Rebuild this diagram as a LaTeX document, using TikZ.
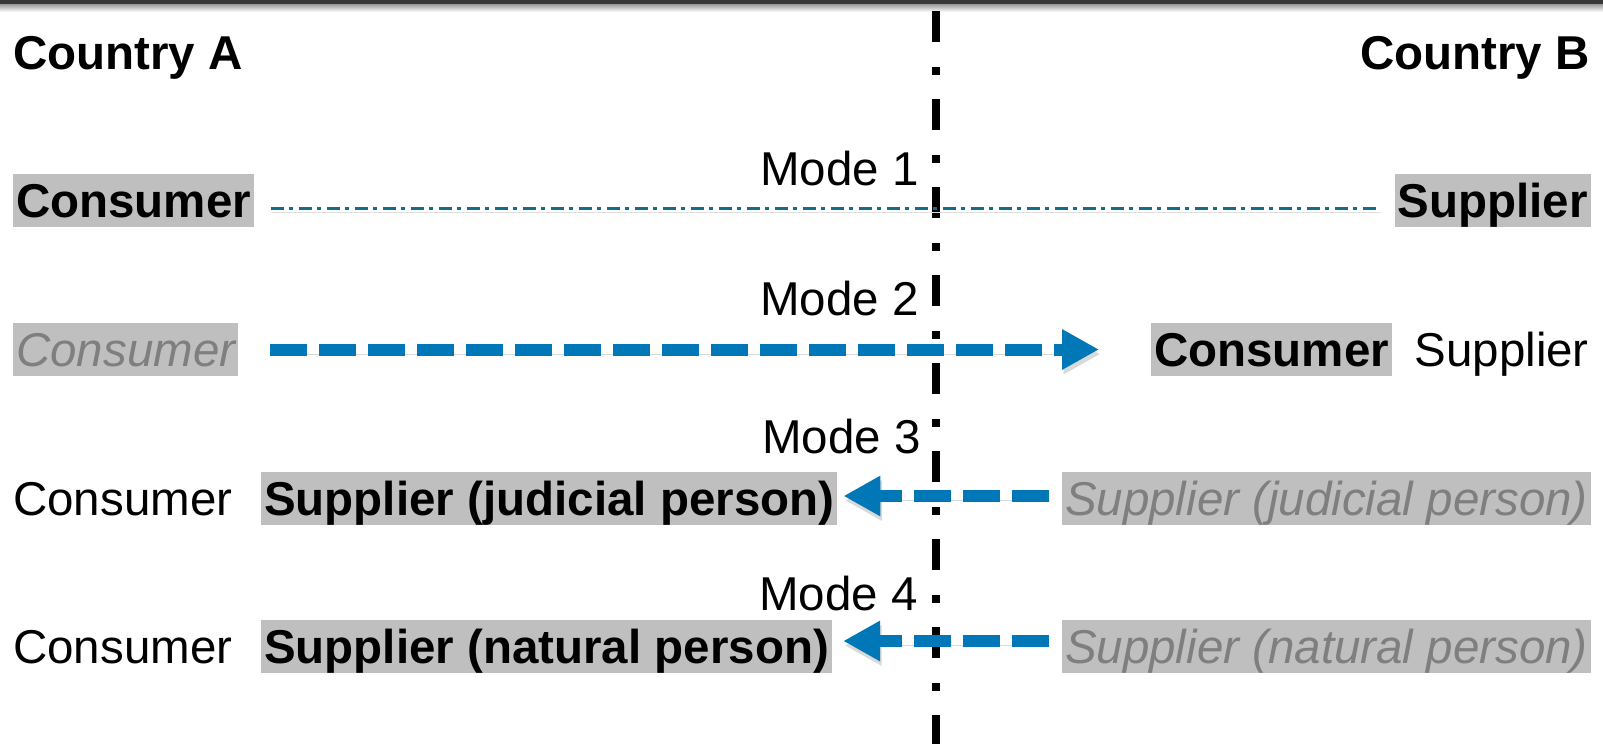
\documentclass[tikz,border=0pt]{standalone}
\usepackage{fontspec}
\setmainfont{Liberation Sans}
\usetikzlibrary{arrows.meta,calc}
\definecolor{boxgray}{HTML}{BFBFBF}
\definecolor{txtgray}{HTML}{7F7F7F}
\definecolor{arrowblue}{HTML}{0077B6}
\definecolor{lineteal}{HTML}{166A8C}
\begin{document}
\begin{tikzpicture}[x=1pt,y=-1pt,
  every node/.style={inner sep=0pt},
  plaintxt/.style={font=\fontsize{47.5}{56}\selectfont},
  boldtxt/.style={font=\fontsize{47.5}{56}\selectfont\bfseries},
  fadedtxt/.style={font=\fontsize{47.5}{56}\selectfont\itshape, text=txtgray},
  hl/.style={fill=boxgray, inner xsep=3pt, inner ysep=3pt, text height=40pt, text depth=7pt},
  flow/.style={line width=12pt, draw=arrowblue, dash pattern=on 37pt off 12pt,
    -{Triangle[length=37pt,width=38pt]},
    preaction={draw=black!15, transform canvas={xshift=1.5pt,yshift=-4.5pt}}},
  modeline/.style={line width=3pt, draw=lineteal, dash pattern=on 13pt off 5pt on 4pt off 6pt,
    preaction={draw=black!12, transform canvas={xshift=1pt,yshift=-4pt}}},
  divider/.style={line width=8pt, draw=black, dash pattern=on 31pt off 25pt on 8pt off 24pt}
]
\useasboundingbox (0,0) rectangle (1603,744);
% top border
\fill[black!78] (0,0) rectangle (1603,4);
\shade[top color=black!40, bottom color=white] (0,4) rectangle (1603,12);

% divider
\coordinate (divtop) at (936,11);
\coordinate (divbot) at (936,744);
\draw[divider] (divtop) -- (divbot);

% headers
\node[boldtxt, anchor=base west] (ca) at (13,69) {Country A};
\node[boldtxt, anchor=base east] (cb) at (1590,69) {Country B};

% mode labels
\node[plaintxt, anchor=base east] (m1) at (919,185) {Mode 1};
\node[plaintxt, anchor=base east] (m2) at (919,315) {Mode 2};
\node[plaintxt, anchor=base east] (m3) at (921,453) {Mode 3};
\node[plaintxt, anchor=base east] (m4) at (918,610) {Mode 4};

% row 1
\node[boldtxt, hl, anchor=base west] (c1) at (13,217) {Consumer};
\node[boldtxt, hl, anchor=base east] (s1) at (1591,217) {Supplier};
\draw[modeline] ($(c1.east)+(17,7.5)$) -- ($(s1.west)+(-15,7.5)$);

% row 2
\node[fadedtxt, hl, anchor=base west] (c2) at (13,366) {Consumer};
\node[boldtxt, hl, anchor=base west] (c2b) at (1151,366) {Consumer};
\node[plaintxt, anchor=base east] (s2) at (1589,366) {Supplier};
\draw[flow] ($(c2.east)+(31,0)$) -- ($(c2b.west)+(-52,0)$);

% row 3
\node[plaintxt, anchor=base west] (c3) at (13,515) {Consumer};
\node[boldtxt, hl, anchor=base west] (s3l) at (261,515) {Supplier (judicial person)};
\node[fadedtxt, hl, anchor=base east] (s3r) at (1591,515) {Supplier (judicial person)};
\draw[flow] ($(s3r.west)+(-13,-2.5)$) -- ($(s3l.east)+(6,-2.5)$);

% row 4
\node[plaintxt, anchor=base west] (c4) at (13,663) {Consumer};
\node[boldtxt, hl, anchor=base west] (s4l) at (261,663) {Supplier (natural person)};
\node[fadedtxt, hl, anchor=base east] (s4r) at (1591,663) {Supplier (natural person)};
\draw[flow] ($(s4r.west)+(-13,-5.5)$) -- ($(s4l.east)+(11,-5.5)$);
\end{tikzpicture}
\end{document}
